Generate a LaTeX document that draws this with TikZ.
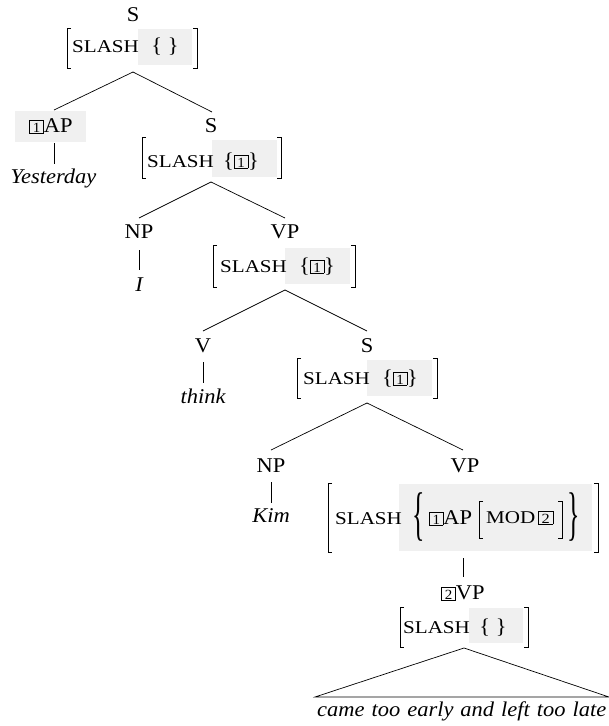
\documentclass[tikz,border=0pt]{standalone}
\usepackage{graphicx}
\usepackage{fontspec}
\setmainfont[FakeStretch=1.07]{Liberation Serif}
\newfontfamily\scf[FakeStretch=1.17]{Liberation Serif}
\newcommand{\tg}[1]{{\setlength{\fboxsep}{0pt}\setlength{\fboxrule}{0.6pt}\fbox{\rule[-1pt]{0pt}{12.5pt}\hspace{2.8pt}{\fontsize{14}{14}\selectfont #1}\hspace{2.8pt}}}}
\newcommand{\lbrk}[3]{\draw[brk] (#1+4,#2) -- (#1,#2) -- (#1,#3) -- (#1+4,#3);}
\newcommand{\rbrk}[3]{\draw[brk] (#1-4,#2) -- (#1,#2) -- (#1,#3) -- (#1-4,#3);}
\begin{document}
\begin{tikzpicture}[x=1pt,y=-1pt,
  cat/.style={font=\fontsize{21}{25}\selectfont, inner sep=0pt, anchor=base},
  word/.style={font=\fontsize{21}{25}\selectfont\itshape, inner sep=0pt, anchor=base},
  feat/.style={font=\scf\fontsize{18}{21}\selectfont, inner sep=0pt, anchor=base west},
  bigbr/.style={font=\fontsize{21}{25}\selectfont, inner sep=0pt},
  grayb/.style={fill=black!6},
  brk/.style={line width=0.8pt},
  edge/.style={line width=0.7pt}]
\useasboundingbox (0,0) rectangle (609,726);
% gray backgrounds
\fill[grayb] (138,29) rectangle (192,65);
\fill[grayb] (15,111) rectangle (86,142);
\fill[grayb] (212,140) rectangle (277,177);
\fill[grayb] (285,248) rectangle (350,284);
\fill[grayb] (367,360) rectangle (432,396);
\fill[grayb] (399,484) rectangle (592,551);
\fill[grayb] (469,608) rectangle (523,643);
% top S
\node[cat] (s0) at (133,21.5) {S};
\lbrk{67}{28}{68} \rbrk{197}{28}{68}
\node[feat] (f0) at (72,52) {SLASH};
\node[cat] (v0) at (165,52) {\{ \}};
% AP
\node[cat] (ap) at (51,132) {\tg{1}AP};
\node[word] (yest) at (53.5,183) {Yesterday};
% S1
\node[cat] (s1) at (211,132) {S};
\lbrk{142}{137}{178} \rbrk{281}{137}{178}
\node[feat] (f1) at (147,167) {SLASH};
\node[cat] (v1) at (241,167) {\{\tg{1}\}};
% NP0
\node[cat] (np0) at (139,238) {NP};
\node[word] (wi) at (139,291) {I};
% VP0
\node[cat] (vp0) at (285,238) {VP};
\lbrk{213}{245}{287} \rbrk{355}{245}{287}
\node[feat] (f2) at (220,272) {SLASH};
\node[cat] (v2) at (317,272) {\{\tg{1}\}};
% V
\node[cat] (v) at (203,352) {V};
\node[word] (think) at (203,403) {think};
% S2
\node[cat] (s2) at (367,352) {S};
\lbrk{297}{358}{398} \rbrk{437}{358}{398}
\node[feat] (f3) at (303,384) {SLASH};
\node[cat] (v3) at (400,384) {\{\tg{1}\}};
% NP1
\node[cat] (np1) at (271,472) {NP};
\node[word] (kim) at (271,522) {Kim};
% VP1
\node[cat] (vp1) at (465,472) {VP};
\lbrk{328}{483}{552} \rbrk{598}{483}{552}
\node[feat] (f4) at (335,524) {SLASH};
\node[bigbr] (lbr) at (419,517) {\scalebox{1.15}[2.8]{\{}};
\node[cat, anchor=base west] (ap2) at (429,524) {\tg{1}AP};
\lbrk{479}{501}{538} \rbrk{562}{501}{538}
\node[feat] (mod) at (486,523) {MOD\hspace{3pt}\tg{2}};
\node[bigbr] (rbr) at (574,517) {\scalebox{1.15}[2.8]{\}}};
% 2VP
\node[cat] (vp2) at (463,599) {\tg{2}VP};
\lbrk{400}{607}{647} \rbrk{528}{607}{647}
\node[feat] (f5) at (403,633) {SLASH};
\node[cat] (v5) at (493,633) {\{ \}};
% phrase
\node[word, anchor=base west] (phr) at (317,716) {\spaceskip=7pt came too early and left too late};
% connector coordinates
\coordinate (a0) at (133,72);
\coordinate (a0l) at (54,110);
\coordinate (a0r) at (212,112);
\coordinate (apb) at (54,143);
\coordinate (yt) at (54,164);
\coordinate (a1) at (211,182);
\coordinate (a1l) at (139,218);
\coordinate (a1r) at (285,218);
\coordinate (npb) at (139,250);
\coordinate (it) at (139,270);
\coordinate (a2) at (285,290);
\coordinate (a2l) at (203,331);
\coordinate (a2r) at (367,331);
\coordinate (vb) at (203,362);
\coordinate (tt) at (203,383);
\coordinate (a3) at (367,403);
\coordinate (a3l) at (271,450);
\coordinate (a3r) at (463,450);
\coordinate (np1b) at (271,482);
\coordinate (kt) at (271,503);
\coordinate (a4) at (463,558);
\coordinate (vp2t) at (463,577);
\coordinate (a5) at (464,648);
\coordinate (tl) at (315,697);
\coordinate (tr) at (609,697);
\draw[edge] (a0) -- (a0l);
\draw[edge] (a0) -- (a0r);
\draw[edge] (apb) -- (yt);
\draw[edge] (a1) -- (a1l);
\draw[edge] (a1) -- (a1r);
\draw[edge] (npb) -- (it);
\draw[edge] (a2) -- (a2l);
\draw[edge] (a2) -- (a2r);
\draw[edge] (vb) -- (tt);
\draw[edge] (a3) -- (a3l);
\draw[edge] (a3) -- (a3r);
\draw[edge] (np1b) -- (kt);
\draw[edge] (a4) -- (vp2t);
\draw[edge] (a5) -- (tl) -- (tr) -- cycle;
\end{tikzpicture}
\end{document}
